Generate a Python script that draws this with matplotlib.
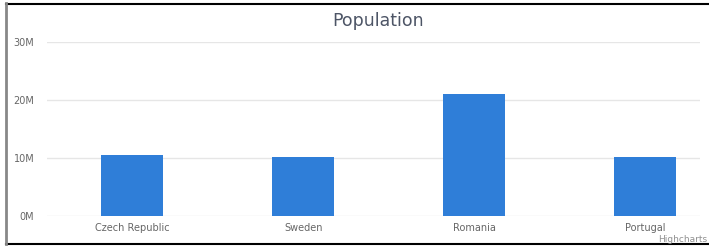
import matplotlib
matplotlib.use("Agg")
import matplotlib.pyplot as plt
from matplotlib.lines import Line2D
from matplotlib.ticker import FuncFormatter

countries = ["Czech Republic", "Sweden", "Romania", "Portugal"]
population = [10.5e6, 10.1e6, 21.0e6, 10.1e6]
y_ticks = [0, 10e6, 20e6, 30e6]

W, H = 709, 248
fig = plt.figure(figsize=(W / 100, H / 100), dpi=100)
ax = fig.add_axes([47 / W, (H - 216) / H, (700 - 47) / W, (216 - 42) / H])

x = list(range(len(countries)))
ax.bar(x, population, width=0.363, color="#2f7ed8", zorder=3)

ax.set_ylim(0, 30e6)
ax.set_xlim(-0.497, 3.319)
ax.set_yticks(y_ticks)
ax.yaxis.set_major_formatter(FuncFormatter(lambda v, p: f"{int(v / 1e6)}M"))
ax.set_xticks(x)
ax.set_xticklabels(countries)
ax.grid(axis="y", color="#e6e6e6", linewidth=1, zorder=0)
ax.tick_params(axis="both", length=0, labelsize=7, labelcolor="#666666")
ax.tick_params(axis="y", pad=9)
ax.tick_params(axis="x", pad=5)
for s in ax.spines.values():
    s.set_visible(False)

fig.text(378 / W, 1 - 21 / H, "Population", ha="center", va="center",
         fontsize=12.5, color="#4d5566")
fig.text(707 / W, 1 - 240 / H, "Highcharts", ha="right", va="center",
         fontsize=6.5, color="#909090")

# outer frame
fig.add_artist(Line2D([6 / W, 708 / W], [1 - 3.5 / H, 1 - 3.5 / H], color="black", lw=1.5))
fig.add_artist(Line2D([6 / W, 708 / W], [1 - 244 / H, 1 - 244 / H], color="black", lw=1.5))
fig.add_artist(Line2D([6 / W, 6 / W], [1 - 3 / H, 1 - 244 / H], color="#888888", lw=2))

fig.savefig("out.png", dpi=100)
